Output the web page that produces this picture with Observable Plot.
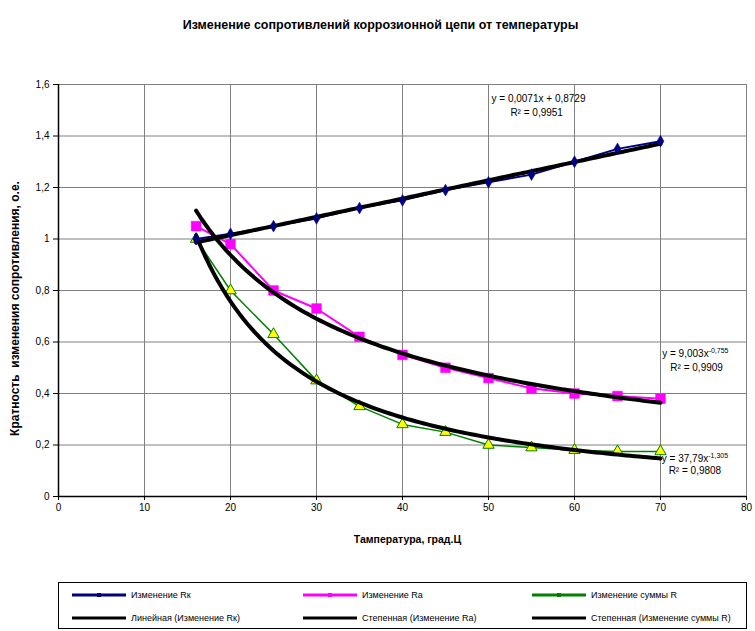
<!DOCTYPE html>
<html>
<head>
<meta charset="utf-8">
<script src="https://cdn.jsdelivr.net/npm/d3@7"></script>
<script src="https://cdn.jsdelivr.net/npm/@observablehq/plot@0.6"></script>
<style>
  body { margin: 0; background: #fff; font-family: "Liberation Sans", Arial, sans-serif; }
  #wrap { position: relative; width: 755px; height: 631px; overflow: hidden; }
  #legend { position: absolute; left: 58px; top: 582px; width: 689px; height: 47px; border: 1px solid #000; box-sizing: border-box; }
  .li { position: absolute; display: flex; align-items: center; font-size: 9px; color: #000; white-space: nowrap; }
  .li svg { margin-right: 5px; }
</style>
</head>
<body>
<div id="wrap"><div id="chart"></div><div id="legend"></div></div>
<script>
// ---- data ----
const temps = [16, 20, 25, 30, 35, 40, 45, 50, 55, 60, 65, 70];
const rk    = [1.00, 1.02, 1.05, 1.08, 1.12, 1.15, 1.19, 1.22, 1.25, 1.30, 1.35, 1.38];
const ra    = [1.05, 0.98, 0.80, 0.73, 0.62, 0.55, 0.50, 0.46, 0.42, 0.40, 0.39, 0.38];
const sumR  = [1.00, 0.80, 0.63, 0.45, 0.35, 0.28, 0.25, 0.20, 0.19, 0.18, 0.175, 0.175];

// trendline coefficients as printed on the chart
const linRk = {a: 0.0071, b: 0.8729};       // y = a x + b
const powRa = {c: 9.003, p: -0.755};        // y = c x^p
const powSum = {c: 37.79, p: -1.305};
const trendRange = [16, 70];

const xTicks = [0, 10, 20, 30, 40, 50, 60, 70, 80];
const yTicks = [0, 0.2, 0.4, 0.6, 0.8, 1.0, 1.2, 1.4, 1.6];

const title = "Изменение сопротивлений коррозионной цепи от температуры";
const xTitle = "Тампература, град.Ц";
const yTitle = "Кратность  изменения сопротивления, о.е.";
const legendNames = ["Изменение Rк", "Изменение Ra", "Изменение суммы R",
  "Линейная (Изменение Rк)", "Степенная (Изменение Ra)", "Степенная (Изменение суммы R)"];

// equation labels (left-anchored) and R² labels (centred)
const eqLabels = [
  {x: 50.35, y: 1.546, text: "y = 0,0071x + 0,8729"},
  {x: 70.2,  y: 0.553, text: "y = 9,003x", sup: "-0,755"},
  {x: 70.15, y: 0.147, text: "y = 37,79x", sup: "-1,305"}
];
const r2Labels = [
  {x: 55.6,  y: 1.491, text: "R² = 0,9951"},
  {x: 74.2,  y: 0.498, text: "R² = 0,9909"},
  {x: 74.0,  y: 0.101, text: "R² = 0,9808"}
];

const fmt = d => String(+d.toFixed(1)).replace(".", ",");

const rows = (ys) => temps.map((t, i) => ({x: t, y: ys[i]}));
const dRk = rows(rk), dRa = rows(ra), dSum = rows(sumR);

// trend curves sampled from the printed equations
const samp = d3.range(trendRange[0], trendRange[1] + 0.001, 0.5);
const tLin = samp.map(x => ({x, y: linRk.a * x + linRk.b}));
const tRa = samp.map(x => ({x, y: powRa.c * Math.pow(x, powRa.p)}));
const tSum = samp.map(x => ({x, y: powSum.c * Math.pow(x, powSum.p)}));

const grid = "#808080";
const plot = Plot.plot({
  width: 755,
  height: 575,
  marginLeft: 58,
  marginRight: 9,
  marginTop: 84,
  marginBottom: 79,
  style: {fontFamily: "'Liberation Sans', Arial, sans-serif", fontSize: "10px", color: "#000", background: "#fff"},
  x: {domain: [0, 80], ticks: xTicks, label: null},
  y: {domain: [0, 1.6], ticks: yTicks, label: null},
  marks: [
    Plot.gridX(xTicks, {stroke: grid, strokeOpacity: 1, strokeWidth: 1}),
    Plot.gridY(yTicks, {stroke: grid, strokeOpacity: 1, strokeWidth: 1}),
    Plot.frame({stroke: grid, strokeWidth: 1}),
    Plot.ruleX([0], {stroke: "#000", strokeWidth: 1.5}),
    Plot.ruleY([0], {stroke: "#000", strokeWidth: 1.5}),
    Plot.axisX({ticks: xTicks, tickSize: 4, tickPadding: 3, tickFormat: fmt, fontSize: 10, label: null}),
    Plot.axisY({ticks: yTicks, tickSize: 5, tickPadding: 4, tickFormat: fmt, fontSize: 10, label: null}),
    Plot.text([title], {frameAnchor: "top", dx: -22, dy: -64, fontWeight: "bold", fontSize: 12.5}),
    Plot.text([xTitle], {frameAnchor: "bottom", dx: 5, dy: 46, fontWeight: "bold", fontSize: 10.5}),
    Plot.text([yTitle], {frameAnchor: "left", textAnchor: "middle", dx: -43, dy: 18, rotate: -90, fontWeight: "bold", fontSize: 12}),
    Plot.text(eqLabels, {x: "x", y: "y", text: "text", textAnchor: "start", fontSize: 10, fill: "#000"}),
    Plot.text(r2Labels, {x: "x", y: "y", text: "text", textAnchor: "middle", fontSize: 10, fill: "#000"}),
    Plot.line(dRk, {x: "x", y: "y", stroke: "#000080", strokeWidth: 2}),
    Plot.line(dRa, {x: "x", y: "y", stroke: "#FF00FF", strokeWidth: 2}),
    Plot.line(dSum, {x: "x", y: "y", stroke: "#008000", strokeWidth: 1.5}),
    Plot.dot(dRa, {x: "x", y: "y", symbol: "square", r: 5.5, fill: "#FF00FF", stroke: "#FF00FF", strokeWidth: 0.5}),
    Plot.dot(dSum, {x: "x", y: "y", symbol: "triangle", r: 4.2, fill: "#FFFF00", stroke: "#008000", strokeWidth: 1}),
    Plot.line(tLin, {x: "x", y: "y", stroke: "#000", strokeWidth: 4}),
    Plot.line(tRa, {x: "x", y: "y", stroke: "#000", strokeWidth: 4}),
    Plot.line(tSum, {x: "x", y: "y", stroke: "#000", strokeWidth: 4}),
    Plot.dot(dRk, {x: "x", y: "y", symbol: "diamond", r: 3.6, fill: "#000080", stroke: "#000080", strokeWidth: 0.5})
  ]
});
document.getElementById("chart").appendChild(plot);

// superscript exponents on the power equations
d3.select(plot).selectAll("text").each(function() {
  const lab = eqLabels.find(l => l.sup && l.text === this.textContent);
  if (lab) {
    d3.select(this).append("tspan").attr("dy", "-4").attr("font-size", "7").text(lab.sup);
  }
});

// legend
const legend = document.getElementById("legend");
const legendStyles = [
  {stroke: "#000080", w: 3, m: "#000080"},
  {stroke: "#FF00FF", w: 3, m: "#FF00FF"},
  {stroke: "#008000", w: 3, m: "#008000"},
  {stroke: "#000", w: 3, m: null},
  {stroke: "#000", w: 3, m: null},
  {stroke: "#000", w: 3, m: null}
];
const colX = [13, 244, 473];
const rowY = [12, 35];
legendNames.forEach((name, i) => {
  const s = legendStyles[i];
  const div = document.createElement("div");
  div.className = "li";
  div.style.left = colX[i % 3] + "px";
  div.style.top = (rowY[Math.floor(i / 3)] - 6) + "px";
  div.style.height = "12px";
  div.innerHTML = `<svg width="54" height="8"><line x1="0" x2="54" y1="4" y2="4" stroke="${s.stroke}" stroke-width="${s.w}"/>` +
    (s.m ? `<rect x="25" y="2" width="4" height="4" fill="${s.m}"/>` : "") + `</svg><span>${name}</span>`;
  legend.appendChild(div);
});
</script>
</body>
</html>
